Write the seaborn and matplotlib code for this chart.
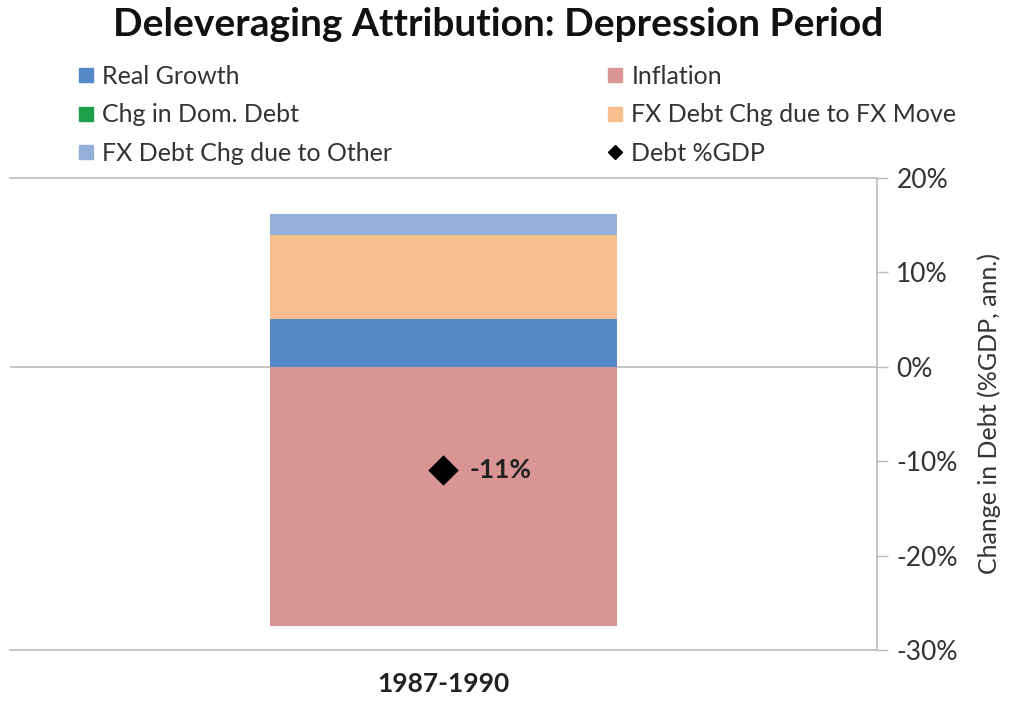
import matplotlib
matplotlib.use("Agg")
import matplotlib.pyplot as plt
import seaborn as sns
import pandas as pd
from matplotlib.lines import Line2D

# ---- data ----
period = ["1987-1990"]
real_growth = [5.0]
inflation = [-27.5]
chg_dom_debt = [0.0]
fx_move = [8.9]
fx_other = [2.2]
debt_gdp = [-11.0]
debt_label = ["-11%"]
y_ticks = [-30, -20, -10, 0, 10, 20]

sns.set_theme(style="white")
plt.rcParams['font.family'] = ['Lato', 'DejaVu Sans']

fig = plt.figure(figsize=(10.16, 7.03), dpi=100)
ax = fig.add_axes([0.01, 0.0754, 0.853, 0.672])

c_rg = "#5589C7"
c_inf = "#D99594"
c_dom = "#1E9E4A"
c_fxm = "#F8BE8E"
c_fxo = "#95B0D8"

df = pd.DataFrame({"period": period})

def seg(vals, color, base):
    sns.barplot(x=df["period"], y=vals, bottom=base, color=color, width=0.4,
                ax=ax, saturation=1, edgecolor="none", linewidth=0)

# positive stack
seg(real_growth, c_rg, [0.0])
b1 = [real_growth[0]]
seg(chg_dom_debt, c_dom, b1)
b2 = [b1[0] + chg_dom_debt[0]]
seg(fx_move, c_fxm, b2)
b3 = [b2[0] + fx_move[0]]
seg(fx_other, c_fxo, b3)
# negative
seg(inflation, c_inf, [0.0])

sns.scatterplot(x=df["period"], y=debt_gdp, marker="D", s=240, color="black",
                ax=ax, zorder=5, linewidth=0)
ax.annotate(debt_label[0], (0, debt_gdp[0]), xytext=(19, 0), textcoords="offset points",
            ha="left", va="center", fontsize=19, fontweight="bold", color="#222222")

ax.set_xlim(-0.5, 0.5)
ax.set_ylim(-30, 20)
ax.yaxis.tick_right()
ax.yaxis.set_label_position("right")
ax.set_yticks(y_ticks)
ax.set_yticklabels([f"{t}%" for t in y_ticks], fontsize=19, color="#333333")
ax.tick_params(axis="y", which="major", direction="out", length=8, color="#BBBBBB",
               width=1, pad=6, right=True)
ax.set_ylabel("Change in Debt (%GDP, ann.)", fontsize=18, color="#333333", labelpad=14)
ax.set_xlabel("")
ax.set_xticks([0])
ax.set_xticklabels(period, fontsize=19, fontweight="bold", color="#222222")
ax.tick_params(axis="x", length=0, pad=16)

ax.spines["left"].set_visible(False)
for s in ["top", "bottom", "right"]:
    ax.spines[s].set_visible(True)
    ax.spines[s].set_color("#BBBBBB")
    ax.spines[s].set_linewidth(1.2)
ax.axhline(0, color="#BBBBBB", lw=1.2, zorder=0.5)
ax.grid(False)

fig.suptitle("Deleveraging Attribution: Depression Period", x=0.49, y=0.99,
             fontsize=28, fontweight="bold", color="#111111")

def sq(c):
    return Line2D([], [], marker="s", color=c, linestyle="none", markersize=10)

h1 = [sq(c_rg), sq(c_dom), sq(c_fxo)]
l1 = ["Real Growth", "Chg in Dom. Debt", "FX Debt Chg due to Other"]
h2 = [sq(c_inf), sq(c_fxm), Line2D([], [], marker="D", color="black", linestyle="none", markersize=7)]
l2 = ["Inflation", "FX Debt Chg due to FX Move", "Debt %GDP"]

kw = dict(frameon=False, fontsize=18, handlelength=0.7, handletextpad=0.3,
          labelspacing=0.62, borderaxespad=0, labelcolor="#333333")
fig.legend(h1, l1, loc="upper left", bbox_to_anchor=(0.066, 0.922), **kw)
fig.legend(h2, l2, loc="upper left", bbox_to_anchor=(0.587, 0.922), **kw)

fig.savefig("out.png", dpi=100)
